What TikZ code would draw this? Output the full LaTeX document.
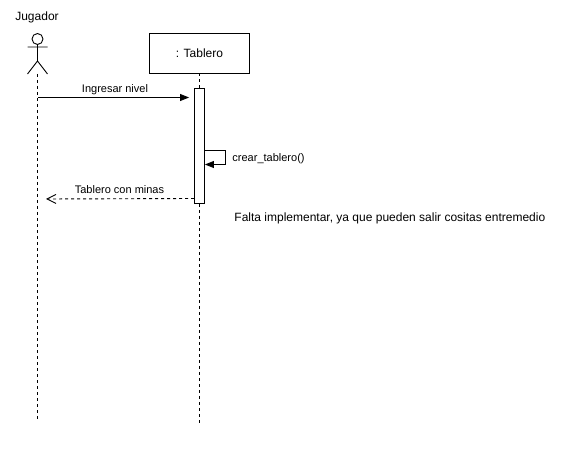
\documentclass[tikz,border=0pt]{standalone}
\usepackage{fontspec}
\setmainfont{Liberation Sans}
\usetikzlibrary{positioning,arrows.meta}
\tikzset{
  lifeline/.style={dash pattern=on 3pt off 3pt},
  msg/.style={-{Stealth[length=9pt,width=7pt,inset=0pt]}},
  retmsg/.style={dash pattern=on 3pt off 3pt, -{Straight Barb[length=9pt,width=9pt]}},
  txt/.style={inner sep=0pt, font=\fontsize{11}{13}\selectfont},
  bigtxt/.style={inner sep=0pt, font=\fontsize{12}{14}\selectfont}
}
\begin{document}
\begin{tikzpicture}[x=1pt, y=-1pt, line width=0.9pt]
      \useasboundingbox (0, 0) rectangle (562, 449);
      \node (jugador) [bigtxt] at (37, 17) {Jugador};
      \node (head) [draw, circle, minimum size=11pt, inner sep=0pt] at (37.5, 39) {};
      \coordinate (hip) at (37.5, 61);
      \coordinate (armL) at (27.5, 47);
      \coordinate (armR) at (47.5, 47);
      \coordinate (legL) at (27.5, 74);
      \coordinate (legR) at (47.5, 74);
      \draw (head.south) -- (hip)
            (armL) -- (armR)
            (legL) -- (hip) -- (legR);
      \node (tablero) [draw, minimum width=100pt, minimum height=40pt, bigtxt] at (199.5, 53) {: Tablero};
      \node (act) [draw, fill=white, minimum width=10pt, minimum height=115pt, inner sep=0pt] at (199.5, 146) {};
      \coordinate (jugadorEnd) at (37.5, 419);
      \coordinate (tableroEnd) at (199.5, 423);
      \coordinate (jugadorIn) at (38, 97.5);
      \coordinate (jugadorOut) at (46, 199);
      \coordinate (actIn) at (act.west |- 0, 97.5);
      \coordinate (actOut) at (act.west |- 0, 198.5);
      \coordinate (selfA) at (act.east |- 0, 150.5);
      \coordinate (selfB) at (act.east |- 0, 164.5);
      \draw [lifeline] (legL -| head) -- (jugadorEnd);
      \draw [lifeline] (tablero) -- (act);
      \draw [lifeline] (act) -- (tableroEnd);
      \draw [msg, shorten >=5pt] (jugadorIn) -- (actIn);
      \draw [msg] (selfA) -- ++(20, 0) |- (selfB);
      \draw [retmsg] (actOut) -- (jugadorOut);
      \node (ingresar) [txt] at (115, 90) {Ingresar nivel};
      \node (crear) [txt, anchor=west] at (232, 159) {crear\_tablero()};
      \node (minas) [txt] at (119.5, 190) {Tablero con minas};
      \node (falta) [bigtxt, anchor=west] at (234, 218) {Falta implementar, ya que pueden salir cositas entremedio};
\end{tikzpicture}
\end{document}
